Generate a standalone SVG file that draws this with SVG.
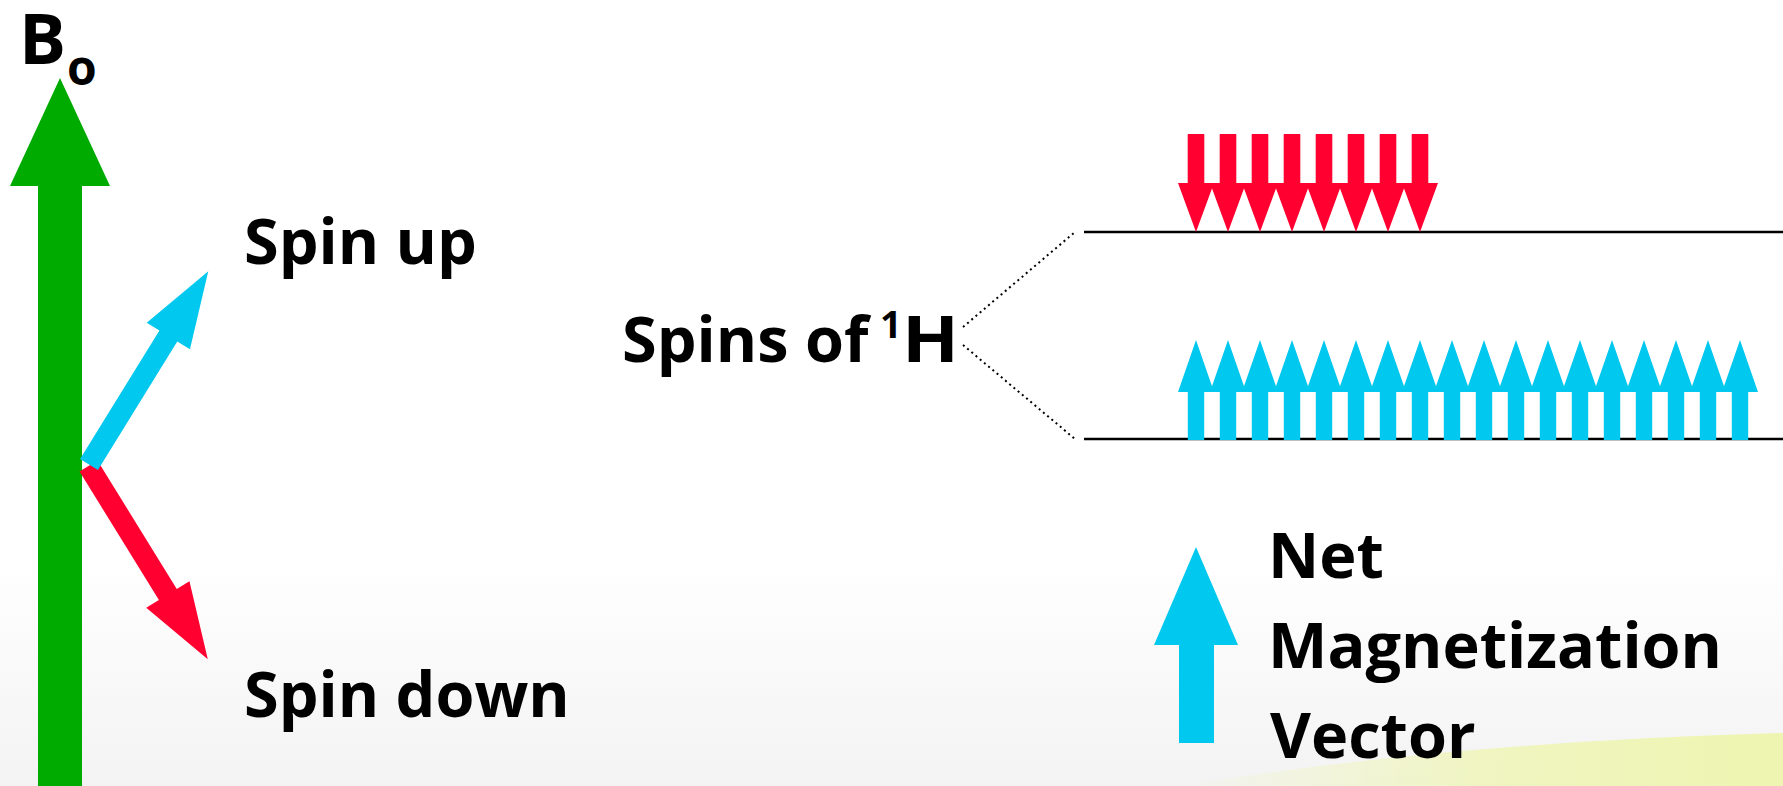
<svg xmlns="http://www.w3.org/2000/svg" width="1783" height="786" viewBox="0 0 1783 786">
<style>
.t{font-family:"Open Sans","Liberation Sans",sans-serif;font-weight:700;fill:#000}
.red{fill:#FF0030}
.blue{fill:#00C8EE}
.green{fill:#00AB00}
.lvl{stroke:#000;stroke-width:2.5;fill:none}
.dot{stroke:#000;stroke-width:2;fill:none;stroke-dasharray:2 3.5}
</style>
<defs>
<linearGradient id="bg" x1="0" y1="0" x2="0" y2="1">
<stop offset="0" stop-color="#ffffff"/>
<stop offset="1" stop-color="#f3f3f3"/>
</linearGradient>
<linearGradient id="sw" x1="0" y1="0" x2="1" y2="0">
<stop offset="0" stop-color="#eef5b0" stop-opacity="0"/>
<stop offset="0.5" stop-color="#eef5b0" stop-opacity="0.75"/>
<stop offset="1" stop-color="#eef5b0" stop-opacity="1"/>
</linearGradient>
<path id="dn" d="M-8.3,134 H8.3 V183 H18 L0,232 L-18,183 H-8.3 Z"/>
<path id="up" d="M-8.2,440 V392 H-18 L0,340 L18,392 H8.2 V440 Z"/>
</defs>
<rect width="1783" height="786" fill="#fff"/>
<rect y="560" width="1783" height="226" fill="url(#bg)"/>
<path d="M1180,786 Q1450,742 1783,733 V786 Z" fill="url(#sw)"/>

<g id="b0-arrow">
<path class="green" d="M38,786 V186 H10 L60,78 L110,186 H82 V786 Z"/>
<text class="t" x="19" y="64" font-size="70">B</text>
<text class="t" x="67" y="85" font-size="48">o</text>
</g>

<g id="spin-down">
<path class="red" d="M0,-10.5 H151 V-25.4 L227,0 L151,25.4 V10.5 H0 Z" transform="translate(88.5,466) rotate(58.3)"/>
<text class="t" x="244" y="717" font-size="63">Spin down</text>
</g>
<g id="spin-up">
<path class="blue" d="M0,-10.5 H151 V-25.4 L227,0 L151,25.4 V10.5 H0 Z" transform="translate(89,464.5) rotate(-58.3)"/>
<text class="t" x="244" y="264" font-size="63">Spin up</text>
</g>

<g id="spins-label">
<text class="t" x="622" y="362" font-size="63">Spins of</text>
<text class="t" x="880" y="338" font-size="38">1</text>
<text class="t" x="902" y="362" font-size="64" textLength="57" lengthAdjust="spacingAndGlyphs">H</text>
</g>

<g id="connectors">
<path class="dot" d="M963,327 L1075,232"/>
<path class="dot" d="M963,345 L1075,439"/>
</g>

<g id="upper-level">
<path class="lvl" d="M1084,232 H1783"/>
<g class="red">
<use href="#dn" x="1196"/><use href="#dn" x="1228"/><use href="#dn" x="1260"/><use href="#dn" x="1292"/>
<use href="#dn" x="1324"/><use href="#dn" x="1356"/><use href="#dn" x="1388"/><use href="#dn" x="1420"/>
</g>
</g>

<g id="lower-level">
<path class="lvl" d="M1084,439 H1783"/>
<g class="blue">
<use href="#up" x="1196"/><use href="#up" x="1228"/><use href="#up" x="1260"/><use href="#up" x="1292"/>
<use href="#up" x="1324"/><use href="#up" x="1356"/><use href="#up" x="1388"/><use href="#up" x="1420"/>
<use href="#up" x="1452"/><use href="#up" x="1484"/><use href="#up" x="1516"/><use href="#up" x="1548"/>
<use href="#up" x="1580"/><use href="#up" x="1612"/><use href="#up" x="1644"/><use href="#up" x="1676"/>
<use href="#up" x="1708"/><use href="#up" x="1740"/>
</g>
</g>

<g id="net-magnetization">
<path class="blue" d="M1179,743 V645 H1154 L1196,547 L1238,645 H1214 V743 Z"/>
<text class="t" x="1268" y="578" font-size="63">Net</text>
<text class="t" x="1268" y="668" font-size="63">Magnetization</text>
<text class="t" x="1270" y="758" font-size="63">Vector</text>
</g>
</svg>
